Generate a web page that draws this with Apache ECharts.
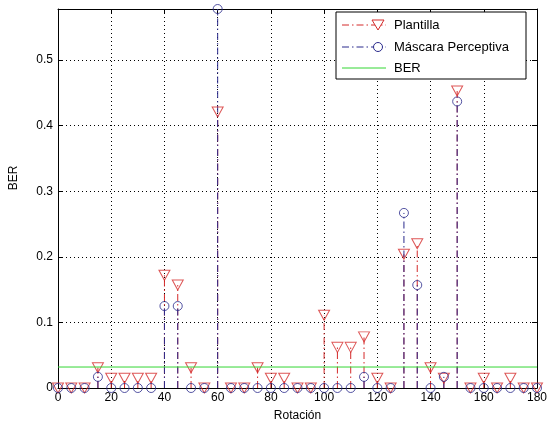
<!DOCTYPE html>
<html>
<head>
<meta charset="utf-8">
<script src="https://cdn.jsdelivr.net/npm/echarts@6/dist/echarts.min.js"></script>
<style>
  html, body { margin: 0; padding: 0; background: #fff; }
  #chart { width: 550px; height: 433px; }
</style>
</head>
<body>
<div id="chart"></div>
<script>
// rotation angles (x)
const rotaciones = [0, 5, 10, 15, 20, 25, 30, 35, 40, 45, 50, 55, 60, 65, 70, 75, 80, 85, 90,
  95, 100, 105, 110, 115, 120, 125, 130, 135, 140, 145, 150, 155, 160, 165, 170, 175, 180]
// BER values
const plantilla = [0, 0, 0, 0.031, 0.015, 0.015, 0.015, 0.015, 0.172, 0.157, 0.031, 0, 0.421,
  0, 0, 0.031, 0.015, 0.015, 0, 0, 0.111, 0.062, 0.062, 0.078, 0.015, 0, 0.204, 0.22, 0.031,
  0.015, 0.453, 0, 0.015, 0, 0.015, 0, 0]
const mascara = [0, 0, 0, 0.017, 0, 0, 0, 0, 0.125, 0.125, 0, 0, 0.578, 0, 0, 0, 0, 0, 0, 0,
  0, 0, 0, 0.017, 0, 0, 0.267, 0.157, 0, 0.017, 0.437, 0, 0, 0, 0, 0, 0]
const berUmbral = 0.032
const xTicks = { min: 0, max: 180, interval: 20 }
const yTicks = { min: 0, max: 0.578, interval: 0.1 }

const RED = '#d42a2a'
const BLUE = '#2a2a8c'
const GREEN = '#33d633'
const FONT = 'Liberation Sans'
const dashDot = [7, 3, 1.5, 3]

const chart = echarts.init(document.getElementById('chart'))

// stem line from 0 up to the value
const stemSeries = (vals, color) => ({
  type: 'custom',
  silent: true,
  clip: false,
  data: rotaciones.map((r, i) => [r, vals[i]]),
  renderItem: (params, api) => {
    const p0 = api.coord([api.value(0), 0])
    const p1 = api.coord([api.value(0), api.value(1)])
    return {
      type: 'line',
      shape: { x1: p0[0], y1: p0[1], x2: p1[0], y2: p1[1] },
      style: { stroke: color, lineWidth: 1, lineDash: dashDot },
    }
  },
  z: 3,
})

const markerSeries = (vals, color, symbol, size, rotate) => ({
  type: 'scatter',
  silent: true,
  clip: false,
  symbol,
  symbolSize: size,
  symbolRotate: rotate,
  data: rotaciones.map((r, i) => [r, vals[i]]),
  itemStyle: { color: 'rgba(0,0,0,0)', borderColor: color, borderWidth: 1 },
  z: 4,
})

const axisCommon = {
  axisLine: { show: true, onZero: false, lineStyle: { color: '#000', width: 1 } },
  axisTick: { show: true, inside: true, length: 5, lineStyle: { color: '#000' } },
}

// legend box
const lx = 336, ly = 12, lw = 190, lh = 67
const legendRows = [
  { y: 25, label: 'Plantilla', color: RED, dash: dashDot, marker: 'tri' },
  { y: 47, label: 'Máscara Perceptiva', color: BLUE, dash: dashDot, marker: 'circ' },
  { y: 68, label: 'BER', color: GREEN, dash: null, marker: null },
]
const legendGraphics = [
  {
    type: 'rect',
    shape: { x: lx, y: ly, width: lw, height: lh },
    style: { fill: '#fff', stroke: '#000', lineWidth: 1 },
    z: 100,
  },
]
legendRows.forEach(r => {
  legendGraphics.push({
    type: 'line',
    shape: { x1: 342, y1: r.y, x2: 386, y2: r.y },
    style: { stroke: r.color, lineWidth: 1, lineDash: r.dash || null },
    z: 101,
  })
  if (r.marker === 'tri') {
    legendGraphics.push({
      type: 'polygon',
      shape: { points: [[372, r.y - 5], [384, r.y - 5], [378, r.y + 5]] },
      style: { fill: '#fff', stroke: r.color, lineWidth: 1 },
      z: 102,
    })
  } else if (r.marker === 'circ') {
    legendGraphics.push({
      type: 'circle',
      shape: { cx: 378, cy: r.y, r: 4.5 },
      style: { fill: '#fff', stroke: r.color, lineWidth: 1 },
      z: 102,
    })
  }
  legendGraphics.push({
    type: 'text',
    x: 394,
    y: r.y,
    style: { text: r.label, fill: '#000', font: '13px "' + FONT + '"', textVerticalAlign: 'middle' },
    z: 102,
  })
})

chart.setOption({
  animation: false,
  backgroundColor: '#fff',
  textStyle: { fontFamily: FONT },
  grid: { left: 58, right: 11, top: 9, bottom: 45, show: false },
  xAxis: [
    {
      type: 'value',
      ...xTicks,
      position: 'bottom',
      ...axisCommon,
      axisLabel: { color: '#000', fontSize: 12, margin: 4, fontFamily: FONT },
      splitLine: { show: true, lineStyle: { color: '#000', type: [1, 3], width: 1 } },
      name: 'Rotación',
      nameLocation: 'middle',
      nameGap: 22,
      nameTextStyle: { color: '#000', fontSize: 12, fontFamily: FONT },
    },
    {
      type: 'value',
      ...xTicks,
      position: 'top',
      ...axisCommon,
      axisLabel: { show: false },
      splitLine: { show: false },
    },
  ],
  yAxis: [
    {
      type: 'value',
      ...yTicks,
      position: 'left',
      ...axisCommon,
      axisLabel: {
        color: '#000',
        fontSize: 12,
        margin: 5,
        fontFamily: FONT,
        showMaxLabel: false,
        formatter: v => (v === 0 ? '0' : v.toFixed(1)),
      },
      splitLine: { show: true, lineStyle: { color: '#000', type: [1, 3], width: 1 } },
    },
    {
      type: 'value',
      ...yTicks,
      position: 'right',
      ...axisCommon,
      axisLabel: { show: false },
      splitLine: { show: false },
    },
  ],
  graphic: [
    {
      type: 'text',
      x: 14,
      y: 178,
      rotation: Math.PI / 2,
      style: { text: 'BER', fill: '#000', font: '12px "' + FONT + '"', textAlign: 'center', textVerticalAlign: 'middle' },
    },
    ...legendGraphics,
  ],
  series: [
    stemSeries(plantilla, RED),
    markerSeries(plantilla, RED, 'triangle', [11, 10], 180),
    stemSeries(mascara, BLUE),
    markerSeries(mascara, BLUE, 'circle', 9, 0),
    {
      type: 'line',
      silent: true,
      symbol: 'none',
      data: [[xTicks.min, berUmbral], [xTicks.max, berUmbral]],
      lineStyle: { color: GREEN, width: 1 },
      z: 5,
    },
  ],
})
</script>
</body>
</html>
